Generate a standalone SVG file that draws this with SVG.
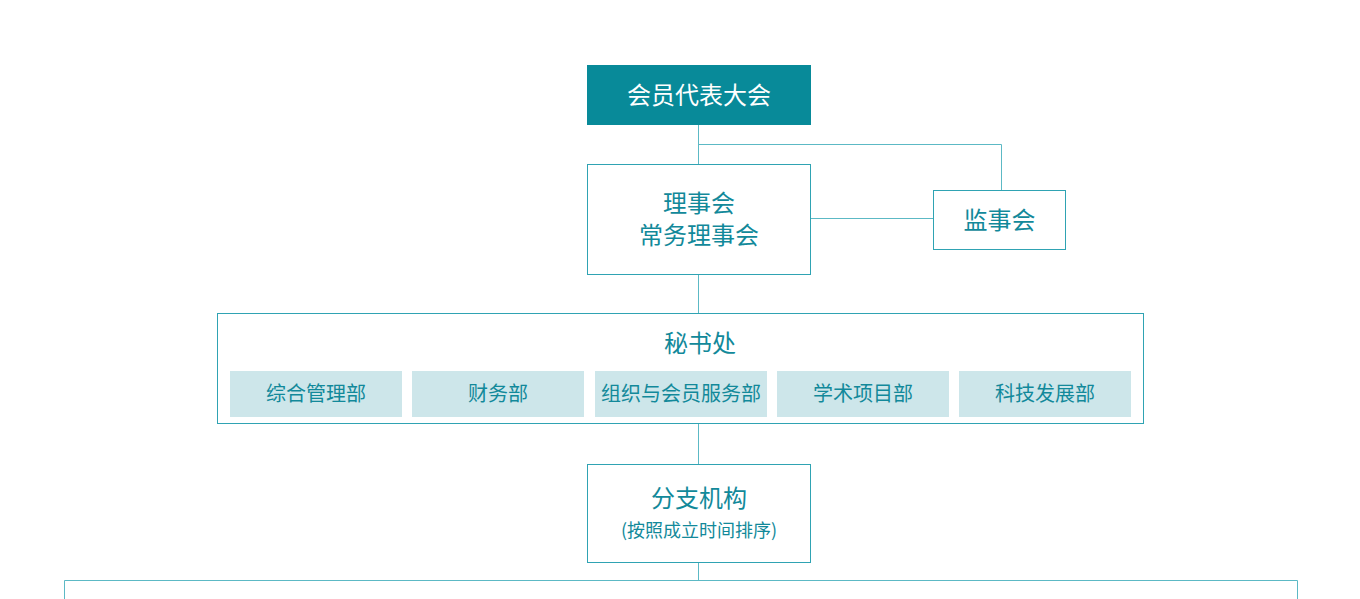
<svg xmlns="http://www.w3.org/2000/svg" width="1360" height="599" viewBox="0 0 1360 599">
<style>
.bx{fill:#fff;stroke:#2fa3b3;stroke-width:1}
.sub{fill:#cde6ea}
.ln{fill:none;stroke:#5cb9c5;stroke-width:1}
text{font-family:"Microsoft YaHei","Noto Sans CJK SC",sans-serif;text-anchor:middle;fill:#12899a}
.t22{font-size:24px}
.t19{font-size:20px}
.t17{font-size:18px}
</style>
<rect width="1360" height="599" fill="#fff"/>
<g id="connectors">
<path class="ln" d="M698.5 124V164M698.5 144.5H1001.5V190M810 218.5H933M698.5 274V313M698.5 423V464M698.5 562V580.5M64.5 599V580.5H1297.5V599"/>
</g>
<g id="n-congress">
<rect x="587" y="65" width="224" height="60" fill="#088a99"/>
<text x="699" y="104" class="t22" style="fill:#fff">会员代表大会</text>
</g>
<g id="n-council">
<rect class="bx" x="587.5" y="164.5" width="223" height="110"/>
<text x="699" y="212" class="t22">理事会</text>
<text x="699" y="244" class="t22">常务理事会</text>
</g>
<g id="n-supervisors">
<rect class="bx" x="933.5" y="190.5" width="132" height="59"/>
<text x="999.5" y="229" class="t22">监事会</text>
</g>
<g id="n-secretariat">
<rect class="bx" x="217.5" y="313.5" width="926" height="110"/>
<text x="700" y="352" class="t22">秘书处</text>
<rect class="sub" x="230" y="371" width="172" height="46"/>
<text x="316" y="401" class="t19">综合管理部</text>
<rect class="sub" x="412" y="371" width="172" height="46"/>
<text x="498" y="401" class="t19">财务部</text>
<rect class="sub" x="595" y="371" width="172" height="46"/>
<text x="681" y="401" class="t19">组织与会员服务部</text>
<rect class="sub" x="777" y="371" width="172" height="46"/>
<text x="863" y="401" class="t19">学术项目部</text>
<rect class="sub" x="959" y="371" width="172" height="46"/>
<text x="1045" y="401" class="t19">科技发展部</text>
</g>
<g id="n-branches">
<rect class="bx" x="587.5" y="464.5" width="223" height="98"/>
<text x="699" y="507" class="t22">分支机构</text>
<text x="699" y="537" class="t17">(按照成立时间排序)</text>
</g>
</svg>
